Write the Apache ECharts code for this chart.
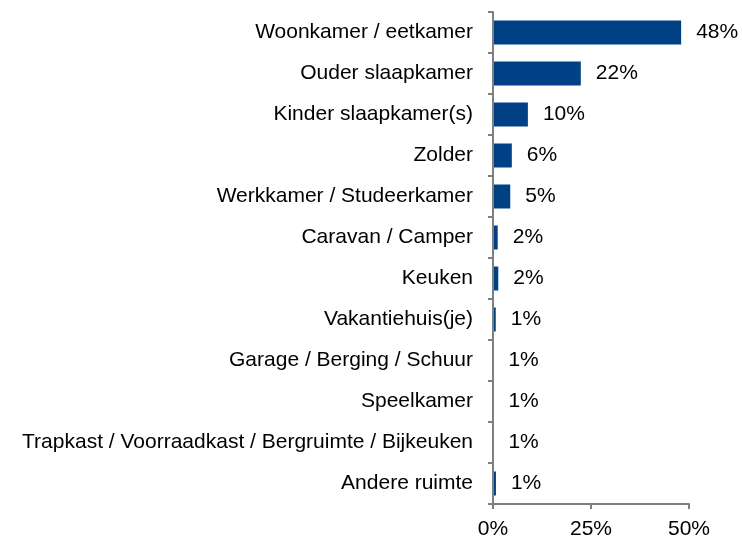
<!DOCTYPE html>
<html>
<head>
<meta charset="utf-8">
<script src="https://cdn.jsdelivr.net/npm/echarts@6/dist/echarts.min.js"></script>
<style>
  html, body { margin: 0; padding: 0; background: #fff; }
  #chart { width: 742px; height: 541px; }
</style>
</head>
<body>
<div id="chart"></div>
<script>
// rooms, top to bottom
var categories = [
  'Woonkamer / eetkamer',
  'Ouder slaapkamer',
  'Kinder slaapkamer(s)',
  'Zolder',
  'Werkkamer / Studeerkamer',
  'Caravan / Camper',
  'Keuken',
  'Vakantiehuis(je)',
  'Garage / Berging / Schuur',
  'Speelkamer',
  'Trapkast / Voorraadkast / Bergruimte / Bijkeuken',
  'Andere ruimte'
];
// bar lengths as drawn (percent)
var values = [48.0, 22.4, 8.9, 4.8, 4.4, 1.2, 1.35, 0.7, 0.1, 0.1, 0.1, 0.75];
// printed value labels
var valueLabels = ['48%', '22%', '10%', '6%', '5%', '2%', '2%', '1%', '1%', '1%', '1%', '1%'];
var xTicks = [0, 25, 50];

var axisGrey = '#7f7f7f';
var font = 'Liberation Sans, Arial, sans-serif';

var chart = echarts.init(document.getElementById('chart'));

var options = {
  animation: false,
  grid: { top: 12, left: 493, right: 53, bottom: 37, containLabel: false },
  xAxis: {
    type: 'value',
    min: xTicks[0],
    max: xTicks[xTicks.length - 1],
    interval: 25,
    splitLine: { show: false },
    axisLine: { show: true, lineStyle: { color: axisGrey, width: 2 } },
    axisTick: { show: true, length: 5, lineStyle: { color: axisGrey, width: 2 } },
    axisLabel: {
      formatter: '{value}%',
      color: '#000',
      fontSize: 21,
      fontFamily: font,
      margin: 15
    }
  },
  yAxis: {
    type: 'category',
    inverse: true,
    data: categories,
    z: 5,
    axisLine: { show: true, lineStyle: { color: axisGrey, width: 2 } },
    axisTick: { show: true, length: 5, lineStyle: { color: axisGrey, width: 2 } },
    axisLabel: {
      color: '#000',
      fontSize: 21,
      fontFamily: font,
      margin: 20
    }
  },
  series: [{
    type: 'bar',
    data: values,
    barWidth: 24,
    itemStyle: { color: '#004185' },
    label: {
      show: true,
      position: 'right',
      distance: 15,
      color: '#000',
      fontSize: 21,
      fontFamily: font,
      formatter: function (p) { return valueLabels[p.dataIndex]; }
    }
  }]
};

chart.setOption(options);
</script>
</body>
</html>
